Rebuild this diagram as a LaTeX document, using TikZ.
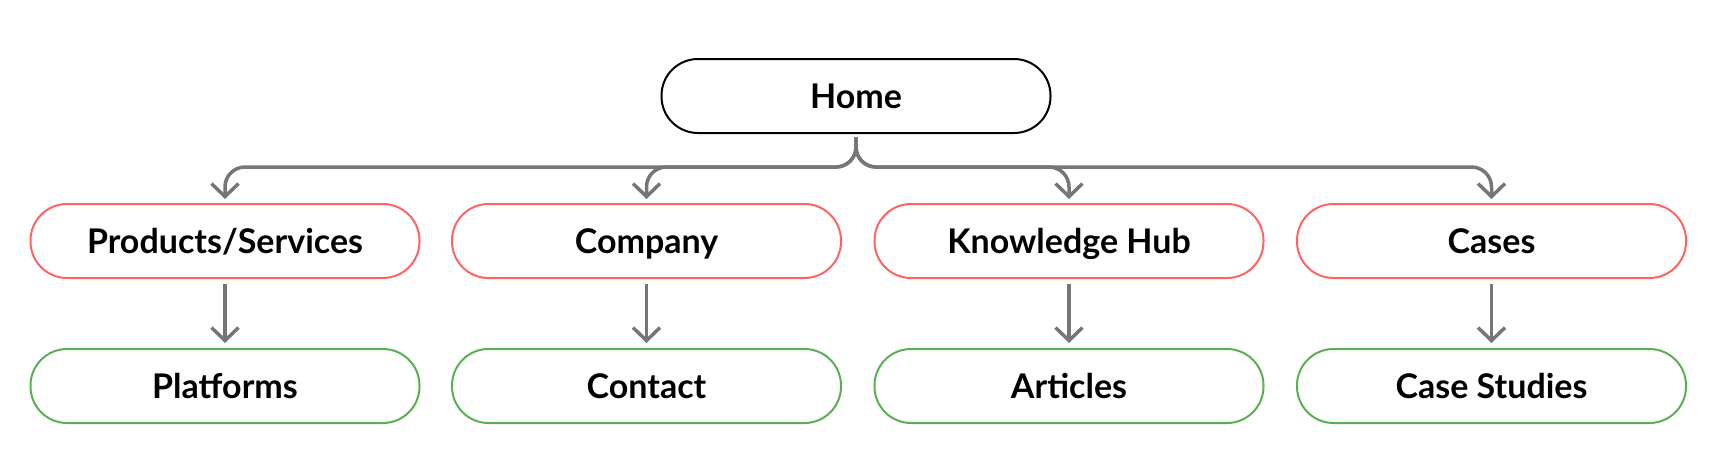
\documentclass[tikz,border=0pt]{standalone}
\usepackage{fontspec}
\setmainfont{Lato}
\usetikzlibrary{arrows.meta}
\definecolor{boxred}{HTML}{FF6363}
\definecolor{boxgreen}{HTML}{5AAF50}
\definecolor{conngray}{HTML}{767676}
\tikzset{
  pill/.style={draw, line width=2pt, rounded corners=36.5pt, minimum width=389pt, minimum height=74pt,
    inner sep=0pt, text height=28pt, text depth=3.5pt, font=\fontsize{34}{40}\selectfont\bfseries, text=black},
  homebox/.style={pill, draw=black},
  secbox/.style={pill, draw=boxred},
  leafbox/.style={pill, draw=boxgreen},
  conn/.style={draw=conngray, line width=3.5pt, rounded corners=20pt,
    -{Straight Barb[length=13pt,width=27pt,line width=3.5pt]}}
}
\begin{document}
\begin{tikzpicture}[x=1pt,y=-1pt]
\useasboundingbox (0,0) rectangle (1717,474);
\node[homebox] (home) at (856,96) {Home};
\node[secbox] (p) at (225,241) {Products/Services};
\node[secbox] (c) at (646.5,241) {Company};
\node[secbox] (k) at (1069,241) {Knowledge Hub};
\node[secbox] (cs) at (1491.5,241) {Cases};
\node[leafbox] (pl) at (225,386) {Platforms};
\node[leafbox] (ct) at (646.5,386) {Contact};
\node[leafbox] (ar) at (1069,386) {Articles};
\node[leafbox] (st) at (1491.5,386) {Case Studies};
\foreach \s in {p,c,k,cs}{
  \draw[conn] ([yshift=-3pt]home.south) |- ([yshift=36pt]\s.north) -- ([yshift=4pt]\s.north);
}
\foreach \s/\t in {p/pl,c/ct,k/ar,cs/st}{
  \draw[conn] ([yshift=-5pt]\s.south) -- ([yshift=5pt]\t.north);
}
\end{tikzpicture}
\end{document}
